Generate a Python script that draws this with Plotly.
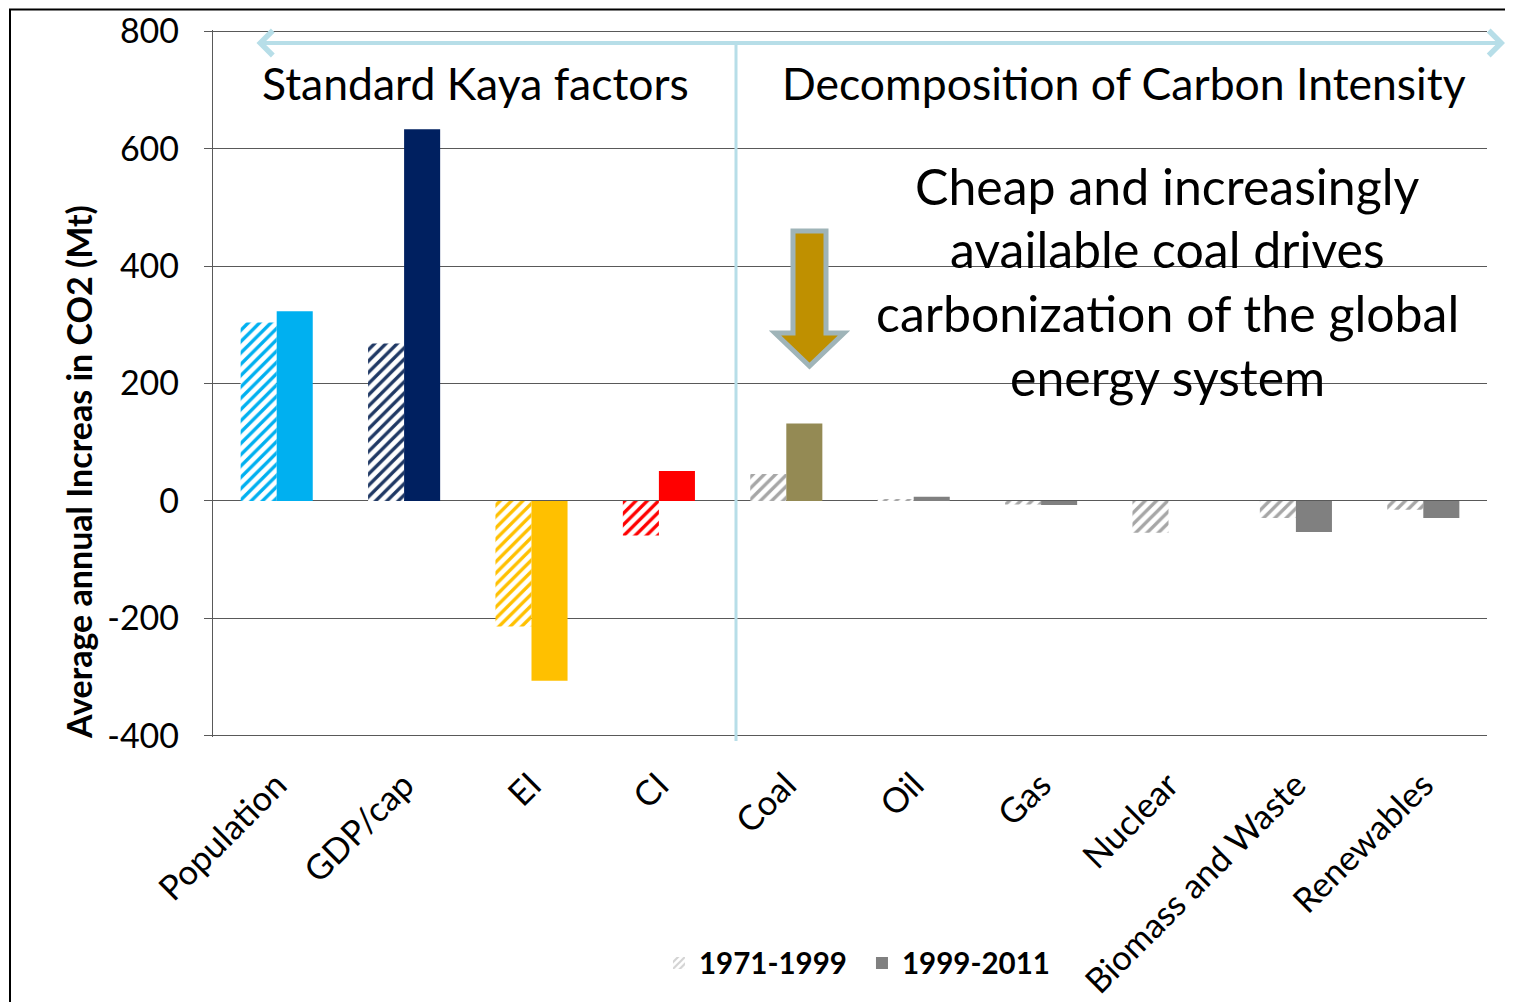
import plotly.graph_objects as go

categories = ["Population", "GDP/cap", "EI", "CI", "Coal", "Oil", "Gas", "Nuclear",
              "Biomass and Waste", "Renewables"]
v_1971_1999 = [304, 268, -214, -59, 46, 3, -6, -54, -29, -15]
v_1999_2011 = [323, 633, -306, 51, 132, 7, -7, 0, -53, -29]
legend_names = ["1971-1999", "1999-2011"]
y_ticks = [-400, -200, 0, 200, 400, 600, 800]

hatch_colors = ["#00B0F0", "#1F3864", "#FFC000", "#FF0000", "#A6A6A6", "#A6A6A6",
                "#A6A6A6", "#A6A6A6", "#A6A6A6", "#A6A6A6"]
solid_colors = ["#00B0F0", "#002060", "#FFC000", "#FF0000", "#948A54", "#808080",
                "#808080", "#808080", "#808080", "#808080"]

FONT = "Lato"
BW = 0.283
OFF = 8  # page body margin
Y0, Y1 = -402, 802

fig = go.Figure()
fig.add_trace(go.Bar(
    x=categories, y=v_1971_1999, offset=-BW, width=BW, showlegend=False,
    marker=dict(color="white", line=dict(width=0),
                pattern=dict(shape="/", fgcolor=hatch_colors, bgcolor="white",
                             size=8, solidity=0.42, fillmode="replace")),
    hoverinfo="x+y", name=legend_names[0]))
fig.add_trace(go.Bar(
    x=categories, y=v_1999_2011, offset=0, width=BW, showlegend=False,
    marker=dict(color=solid_colors, line=dict(width=0)),
    hoverinfo="x+y", name=legend_names[1]))
# legend entries
fig.add_trace(go.Bar(
    x=[None], y=[None], name=legend_names[0],
    marker=dict(color="white", line=dict(width=0),
                pattern=dict(shape="/", fgcolor="#A6A6A6", bgcolor="white",
                             size=6, solidity=0.45))))
fig.add_trace(go.Bar(x=[None], y=[None], name=legend_names[1],
                     marker=dict(color="#808080", line=dict(width=0))))

grid = "#595959"
fig.update_layout(
    width=1513 - OFF, height=1002 - OFF,
    margin=dict(l=213 - OFF, r=26, t=30 - OFF, b=265, autoexpand=False),
    paper_bgcolor="white", plot_bgcolor="white",
    barmode="overlay",
    font=dict(family=FONT, color="black"),
    xaxis=dict(type="category", categoryorder="array", categoryarray=categories,
               range=[-0.5, 9.5], showline=False, ticks="", showgrid=False,
               tickangle=-45, tickfont=dict(size=34.5, family=FONT, color="black"),
               ticklabelstandoff=20, automargin=False),
    xaxis2=dict(overlaying="x", anchor="free", position=(0 - Y0) / (Y1 - Y0),
                side="bottom", range=[-0.5, 9.5], tickmode="array",
                tickvals=[i + 0.5 for i in range(len(categories))],
                ticks="outside", ticklen=12, tickwidth=1.5, tickcolor="black",
                showline=True, linecolor="black", linewidth=1.5,
                showticklabels=False, showgrid=False, zeroline=False, automargin=False),
    yaxis=dict(range=[Y0, Y1], tickmode="array", tickvals=y_ticks,
               ticktext=[str(v) for v in y_ticks],
               showgrid=True, gridcolor=grid, gridwidth=1.3,
               showline=True, linecolor=grid, linewidth=1.3,
               ticks="outside", ticklen=8, tickcolor=grid, tickwidth=1.3,
               zeroline=False, tickfont=dict(size=34, family=FONT, color="black"),
               ticklabelstandoff=18, automargin=False),
    legend=dict(orientation="h", x=0.5094, xanchor="center", y=-0.32, yanchor="middle",
                font=dict(size=29.5, family=FONT, color="black", weight="bold"),
                itemwidth=30, entrywidth=158, bgcolor="rgba(0,0,0,0)"),
    showlegend=True,
)

def px_to_x(px):
    return (px - 213) / 127.4 - 0.5

def px_to_y(py):
    return Y1 - (py - 30) * (Y1 - Y0) / 707

def px_to_px(px):
    return (px - 213) / 1274

def px_to_py(py):
    return (737 - py) / 707

annotations = []
annotations.append(dict(text="Standard Kaya factors", x=px_to_px(475), y=px_to_py(82),
                        xref="paper", yref="paper", showarrow=False,
                        xanchor="center", yanchor="middle",
                        font=dict(size=44.5, family=FONT, color="black")))
annotations.append(dict(text="Decomposition of Carbon Intensity", x=px_to_px(1124),
                        y=px_to_py(82), xref="paper", yref="paper", showarrow=False,
                        xanchor="center", yanchor="middle",
                        font=dict(size=44.5, family=FONT, color="black")))
body = ["Cheap and increasingly", "available coal drives",
        "carbonization of the global", "energy system"]
for line, py in zip(body, [186, 249, 313, 377]):
    annotations.append(dict(text=line, x=px_to_px(1167), y=px_to_py(py),
                            xref="paper", yref="paper", showarrow=False,
                            xanchor="center", yanchor="middle",
                            font=dict(size=50, family=FONT, color="black")))
annotations.append(dict(text="<b>Average annual Increas in CO2 (Mt)</b>", textangle=-90,
                        x=px_to_px(78), y=px_to_py(472), xref="paper", yref="paper",
                        xanchor="center", yanchor="middle",
                        showarrow=False, font=dict(size=34, family=FONT, color="black")))
# double-headed arrow at top
annotations.append(dict(text="", x=px_to_x(1505), y=px_to_y(43), ax=px_to_x(255),
                        ay=px_to_y(43), xref="x", yref="y", axref="x", ayref="y",
                        showarrow=True, arrowside="end+start", arrowhead=4,
                        startarrowhead=4, arrowwidth=4, arrowsize=1.2, startarrowsize=1.2,
                        arrowcolor="#B7DEE8", standoff=0, startstandoff=0))
fig.update_layout(annotations=annotations)

shapes = []
# vertical separator
shapes.append(dict(type="line", xref="x", yref="paper", x0=px_to_x(736), x1=px_to_x(736),
                   y0=px_to_py(43), y1=px_to_py(741), line=dict(color="#B7DEE8", width=3),
                   layer="above"))
# gold down arrow
ax_ = [px_to_x(p) for p in (793, 826, 844, 809.5, 775)]
ay_ = [px_to_y(p) for p in (231, 333, 366)]
path = (f"M{ax_[0]},{ay_[0]} L{ax_[1]},{ay_[0]} L{ax_[1]},{ay_[1]} L{ax_[2]},{ay_[1]} "
        f"L{ax_[3]},{ay_[2]} L{ax_[4]},{ay_[1]} L{ax_[0]},{ay_[1]} Z")
shapes.append(dict(type="path", xref="x", yref="y", path=path, fillcolor="#BF9000",
                   line=dict(color="#9FB4B8", width=5), layer="above"))
# outer frame
shapes.append(dict(type="rect", xref="paper", yref="paper",
                   x0=px_to_px(10), x1=1.05, y0=-0.5, y1=px_to_py(9.5),
                   line=dict(color="black", width=2), fillcolor="rgba(0,0,0,0)"))
fig.update_layout(shapes=shapes)

fig.write_html("out.html")
